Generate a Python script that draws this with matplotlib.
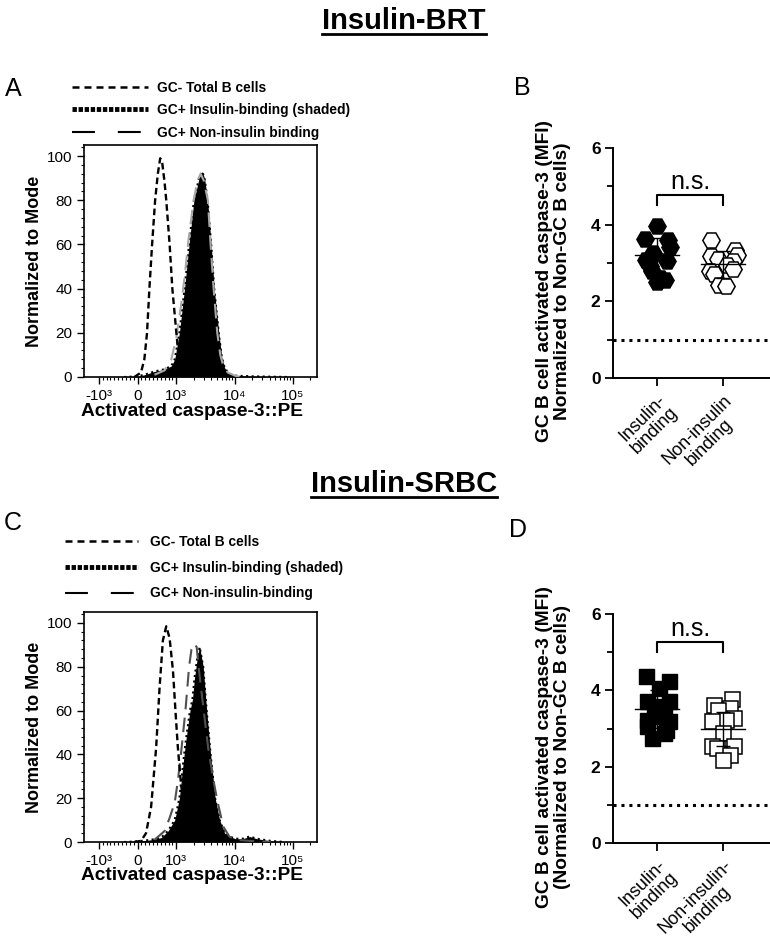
import matplotlib
matplotlib.use('Agg')
import matplotlib.pyplot as plt
from matplotlib.lines import Line2D
from matplotlib.ticker import MultipleLocator, FixedLocator

plt.rcParams['font.family'] = ['Liberation Sans', 'DejaVu Sans']

# ---- histogram data (PE fluorescence vs % of mode) ----
# panel A, Insulin-BRT
a_neg_x = [-87, 87, 174, 243, 304, 374, 452, 522, 583, 635, 696, 739, 826, 896, 1000, 1088, 1197, 1349, 1615, 2181]
a_neg_y = [0, 2, 8, 20, 40, 60, 80, 92, 99, 97, 88, 80, 60, 40, 20, 10, 5, 2, 0.5, 0]
a_pos_x = [-348, 0, 174, 435, 696, 870, 957, 1127, 1382, 1654, 2004, 2459, 2774, 3050, 3446, 3970, 4477, 5358, 6041, 6790, 8147, 10420, 20940, 84500]
a_pos_y = [0, 0.3, 1, 2.5, 3.5, 5, 8, 20, 40, 60, 80, 90, 93, 90, 80, 60, 40, 20, 9, 4, 1.5, 0.6, 0.3, 0]
a_non_x = [435, 696, 870, 1000, 1197, 1382, 1615, 1981, 2316, 2611, 2951, 3483, 3878, 4372, 5047, 5690, 6412, 7674, 10420, 13780]
a_non_y = [1, 3, 8, 18, 32, 45, 62, 80, 89, 92, 89, 80, 60, 40, 20, 10, 5, 2, 0.5, 0]

# panel C, Insulin-SRBC
c_neg_x = [-87, 87, 217, 348, 478, 565, 652, 739, 826, 913, 983, 1062, 1197, 1349, 1615, 1932, 2459, 3124]
c_neg_y = [0, 0.5, 4, 16, 43, 70, 92, 98.5, 93, 78, 58, 43, 27, 16, 7, 2.5, 0.6, 0]
c_pos_x = [-348, 0, 348, 609, 783, 957, 1127, 1271, 1432, 1714, 1888, 2053, 2316, 2518, 2894, 3318, 3878, 4643, 5556, 6790, 8147, 10420, 13780, 18220, 24100, 42070, 73560]
c_pos_y = [0, 0.3, 1, 2, 5, 10, 20, 33, 45, 60, 65, 75, 85, 89, 80, 60, 40, 20, 10, 4, 2.5, 1.5, 1.5, 2.5, 1.5, 0.5, 0]
c_non_x = [435, 696, 826, 957, 1062, 1197, 1432, 1654, 1820, 2053, 2235, 2459, 2951, 3522, 4215, 5047, 6412, 8147, 10420, 18220, 42070]
c_non_y = [1, 5, 11, 18, 28, 40, 60, 80, 88, 90.5, 89, 78, 60, 43, 30, 19, 7, 2.5, 1, 0.5, 0]

# ---- MFI scatter data ----
groups = ['Insulin-\nbinding', 'Non-insulin\nbinding']
groups_d = ['Insulin-\nbinding', 'Non-insulin-\nbinding']

b_ins = [3.97, 3.62, 3.60, 3.43, 3.26, 3.08, 3.04, 2.91, 2.78, 2.61, 2.55, 2.51]
b_ins_dx = [0, -0.18, 0.17, 0.2, -0.06, -0.16, 0.15, -0.1, -0.08, 0.05, 0.12, 0]
b_non = [3.60, 3.34, 3.20, 3.17, 3.10, 3.04, 2.95, 2.84, 2.78, 2.70, 2.43, 2.40]
b_non_dx = [-0.19, 0.18, 0.21, -0.19, -0.07, 0.15, 0.06, 0.15, -0.2, -0.14, -0.06, 0.05]
b_mean = [3.2, 2.97]
b_sd = [0.45, 0.35]

d_ins = [4.37, 4.25, 4.06, 3.71, 3.71, 3.58, 3.45, 3.32, 3.23, 3.19, 3.06, 2.97, 2.88, 2.75]
d_ins_dx = [-0.17, 0.18, 0.03, -0.15, 0.18, -0.05, 0.1, 0, -0.15, 0.18, -0.15, 0.13, 0.1, -0.08]
d_non = [3.76, 3.62, 3.54, 3.49, 3.28, 3.23, 3.19, 2.88, 2.53, 2.53, 2.49, 2.31, 2.18]
d_non_dx = [0.13, -0.14, 0.10, -0.08, 0.17, 0.05, -0.17, 0, -0.17, 0.17, -0.09, 0.1, 0]
d_mean = [3.52, 2.99]
d_sd = [0.5, 0.45]

W, H = 770, 952
fig = plt.figure(figsize=(W / 100, H / 100), dpi=100)


def px_rect(left, top, right, bottom):
    return [left / W, 1 - bottom / H, (right - left) / W, (bottom - top) / H]


def hist_panel(rect, neg_x, neg_y, pos_x, pos_y, non_x, non_y, non_color):
    ax = fig.add_axes(rect)
    ax.set_xscale('symlog', linthresh=1000, linscale=0.6)
    ax.fill_between(pos_x, pos_y, color='black', lw=0, zorder=2)
    ax.plot(pos_x, pos_y, color='black', ls=':', lw=1.5, zorder=3)
    ax.plot(non_x, non_y, color=non_color, ls=(0, (7, 4)), lw=1.5, zorder=4)
    ax.plot(neg_x, neg_y, color='black', ls=(0, (2.8, 1.6)), lw=1.7, zorder=5)
    ax.set_xlim(-1800, 262144)
    ax.set_ylim(0, 105)
    ax.set_xticks([-1000, 0, 1000, 10000, 100000], labels=['-10³', '0', '10³', '10⁴', '10⁵'])
    minors = [k * 100 for k in range(-9, 10) if k != 0]
    minors += [k * 1000 for k in range(2, 10)] + [k * 10000 for k in range(2, 10)] + [200000]
    ax.xaxis.set_minor_locator(FixedLocator(minors))
    ax.set_yticks([0, 20, 40, 60, 80, 100])
    ax.yaxis.set_minor_locator(MultipleLocator(4))
    ax.tick_params(which='major', length=5, width=1, labelsize=11, direction='out')
    ax.tick_params(which='minor', length=2.5, width=0.8, direction='out')
    for s in ax.spines.values():
        s.set_linewidth(1.2)
    ax.set_xlabel('Activated caspase-3::PE', fontsize=13.8, fontweight='bold', va='top')
    ax.xaxis.set_label_coords(0.465, -0.11)
    ax.set_ylabel('Normalized to Mode', fontsize=13, fontweight='bold', labelpad=3)
    return ax


def legend(labels, anchor, handlelength, textpad, spacing):
    handles = [Line2D([], [], color='black', ls=(0, (2.8, 2)), lw=1.8),
               Line2D([], [], color='black', ls=(0, (0.9, 0.35)), lw=3.5),
               Line2D([], [], color='black', ls=(0, (11, 11)), lw=1.5)]
    fig.legend(handles, labels, loc='upper left', bbox_to_anchor=anchor, frameon=False,
               borderpad=0, borderaxespad=0, handlelength=handlelength, handletextpad=textpad,
               labelspacing=spacing, prop={'size': 9.9, 'weight': 'bold'})


def mfi_panel(rect, ins, ins_dx, non, non_dx, mean, sd, marker, ms, labels, ylabel):
    ax = fig.add_axes(rect)
    ax.plot([1 + d for d in ins_dx], ins, ls='none', marker=marker, ms=ms,
            mfc='black', mec='black', mew=1, zorder=3)
    ax.plot([2 + d for d in non_dx], non, ls='none', marker=marker, ms=ms,
            mfc='white', mec='black', mew=1.1, zorder=3)
    for i, (m, s) in enumerate(zip(mean, sd)):
        x = i + 1
        ax.plot([x - 0.33, x + 0.33], [m, m], color='black', lw=1, zorder=4)
        ax.errorbar([x], [m], yerr=[s], color='black', lw=1, capsize=5, capthick=1, zorder=4)
    ax.axhline(1, color='black', ls=(0, (1, 1.6)), lw=2.2, zorder=1)
    ax.set_xlim(0.333, 2.71)
    ax.set_ylim(0, 6)
    ax.set_yticks([0, 2, 4, 6])
    ax.yaxis.set_minor_locator(FixedLocator([1, 3, 5]))
    ax.set_xticks([1, 2])
    ax.set_xticklabels(labels, rotation=45, ha='right', va='top', rotation_mode='anchor',
                       fontsize=13, multialignment='center', linespacing=1.0)
    for lab in ax.get_yticklabels():
        lab.set_fontweight('bold')
    ax.tick_params(axis='y', which='major', length=6, width=1.3, labelsize=12.5, pad=3)
    ax.tick_params(axis='y', which='minor', length=4, width=1.3)
    ax.tick_params(axis='x', length=6, width=1.3, pad=4)
    ax.spines['top'].set_visible(False)
    ax.spines['right'].set_visible(False)
    ax.spines['left'].set_linewidth(1.4)
    ax.spines['bottom'].set_linewidth(1.4)
    ax.set_ylabel(ylabel, fontsize=13.8, fontweight='bold', linespacing=1.05)
    ax.yaxis.set_label_coords(-0.27, 0.42)
    return ax


# panel A
hist_panel(px_rect(84, 145, 317, 377), a_neg_x, a_neg_y, a_pos_x, a_pos_y, a_non_x, a_non_y, '#a8a8a8')
legend(['GC- Total B cells', 'GC+ Insulin-binding (shaded)', 'GC+ Non-insulin binding'],
       (72 / W, 1 - 81 / H), 5.5, 0.67, 0.6)

# panel C
hist_panel(px_rect(84, 612, 317, 842), c_neg_x, c_neg_y, c_pos_x, c_pos_y, c_non_x, c_non_y, '#505050')
legend(['GC- Total B cells', 'GC+ Insulin-binding (shaded)', 'GC+ Non-insulin-binding'],
       (65 / W, 1 - 535 / H), 5.3, 0.9, 0.85)

# panel B
axb = mfi_panel(px_rect(613, 148, 770, 378), b_ins, b_ins_dx, b_non, b_non_dx, b_mean, b_sd,
                'H', 12.5, groups,
                'GC B cell activated caspase-3 (MFI)\nNormalized to Non-GC B cells)')
axb.plot([1, 1, 2, 2], [4.52, 4.78, 4.78, 4.52], color='black', lw=1.5)
axb.text(1.5, 5.1, 'n.s.', ha='center', va='center', fontsize=18)

# panel D
axd = mfi_panel(px_rect(613, 614, 770, 843), d_ins, d_ins_dx, d_non, d_non_dx, d_mean, d_sd,
                's', 10.8, groups_d,
                'GC B cell activated caspase-3 (MFI)\n(Normalized to Non-GC B cells)')
axd.plot([1, 1, 2, 2], [5.0, 5.26, 5.26, 5.0], color='black', lw=1.5)
axd.text(1.5, 5.6, 'n.s.', ha='center', va='center', fontsize=18)

# panel letters
for letter, (x, y) in {'A': (13, 89), 'B': (522, 88), 'C': (13, 523), 'D': (518, 530)}.items():
    fig.text(x / W, 1 - y / H, letter, ha='center', va='center', fontsize=18)

# underlined section titles
titles = []
for txt, y in [('Insulin-BRT', 21), ('Insulin-SRBC', 484)]:
    titles.append(fig.text(404 / W, 1 - y / H, txt, ha='center', va='center',
                           fontsize=21, fontweight='bold'))
fig.canvas.draw()
renderer = fig.canvas.get_renderer()
for t in titles:
    bb = t.get_window_extent(renderer).transformed(fig.transFigure.inverted())
    fig.add_artist(Line2D([bb.x0, bb.x1], [bb.y0 + 0.001, bb.y0 + 0.001],
                          transform=fig.transFigure, color='black', lw=2))

fig.savefig('out.png', dpi=100)
